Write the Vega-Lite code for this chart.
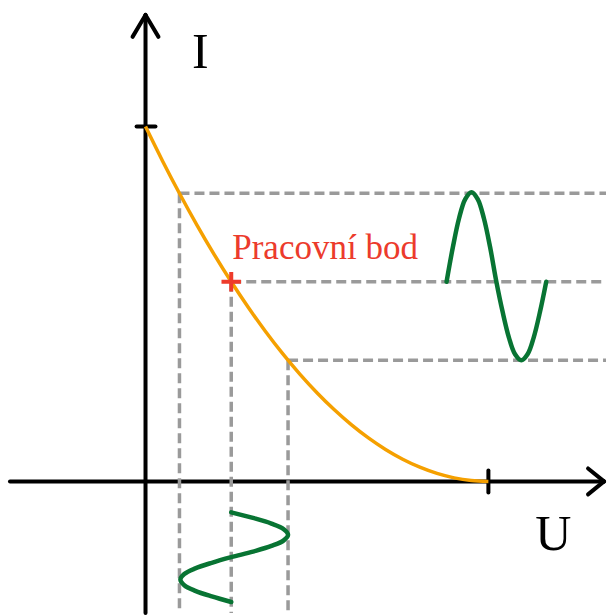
{
  "$schema": "https://vega.github.io/schema/vega-lite/v6.json",
  "width": 608,
  "height": 615,
  "padding": 0,
  "autosize": {"type": "fit", "contains": "padding"},
  "background": "white",
  "config": {"view": {"stroke": null}},
  "datasets": {
    "axes": [
      {"x": -0.3953, "y": 0, "x2": 1.3372, "y2": 0},
      {"x": 0, "y": -0.3708, "x2": 0, "y2": 1.3146},
      {"x": 1.2907, "y": 0.0365, "x2": 1.3372, "y2": 0},
      {"x": 1.2907, "y": -0.0365, "x2": 1.3372, "y2": 0},
      {"x": -0.0378, "y": 1.2528, "x2": 0, "y2": 1.3146},
      {"x": 0.0378, "y": 1.2528, "x2": 0, "y2": 1.3146},
      {"x": -0.026, "y": 1, "x2": 0.029, "y2": 1},
      {"x": 1, "y": 0.0309, "x2": 1, "y2": -0.0309}
    ],
    "dashes": [
      {"x": 0.099, "y": 0.812, "x2": 1.343, "y2": 0.812},
      {"x": 0.25, "y": 0.5625, "x2": 1.343, "y2": 0.5625},
      {"x": 0.4157, "y": 0.3414, "x2": 1.343, "y2": 0.3414},
      {"x": 0.099, "y": 0.812, "x2": 0.099, "y2": -0.3708},
      {"x": 0.25, "y": 0.5625, "x2": 0.25, "y2": -0.3708},
      {"x": 0.4157, "y": 0.3414, "x2": 0.4157, "y2": -0.3708}
    ],
    "curve": [
      {"u": 0, "i": 1}, {"u": 0.05, "i": 0.9025}, {"u": 0.1, "i": 0.81},
      {"u": 0.15, "i": 0.7225}, {"u": 0.2, "i": 0.64}, {"u": 0.25, "i": 0.5625},
      {"u": 0.3, "i": 0.49}, {"u": 0.35, "i": 0.4225}, {"u": 0.4, "i": 0.36},
      {"u": 0.45, "i": 0.3025}, {"u": 0.5, "i": 0.25}, {"u": 0.55, "i": 0.2025},
      {"u": 0.6, "i": 0.16}, {"u": 0.65, "i": 0.1225}, {"u": 0.7, "i": 0.09},
      {"u": 0.75, "i": 0.0625}, {"u": 0.8, "i": 0.04}, {"u": 0.85, "i": 0.0225},
      {"u": 0.9, "i": 0.01}, {"u": 0.95, "i": 0.0025}, {"u": 1.0, "i": 0}
    ],
    "waves": [
      {"w": "out", "k": 0, "u": 0.878, "i": 0.5625},
      {"w": "out", "k": 1, "u": 0.8962, "i": 0.6591},
      {"w": "out", "k": 2, "u": 0.9143, "i": 0.741},
      {"w": "out", "k": 3, "u": 0.9325, "i": 0.7958},
      {"w": "out", "k": 4, "u": 0.9507, "i": 0.815},
      {"w": "out", "k": 5, "u": 0.9688, "i": 0.7958},
      {"w": "out", "k": 6, "u": 0.987, "i": 0.741},
      {"w": "out", "k": 7, "u": 1.0052, "i": 0.6591},
      {"w": "out", "k": 8, "u": 1.0233, "i": 0.5625},
      {"w": "out", "k": 9, "u": 1.0415, "i": 0.4779},
      {"w": "out", "k": 10, "u": 1.0597, "i": 0.4062},
      {"w": "out", "k": 11, "u": 1.0778, "i": 0.3582},
      {"w": "out", "k": 12, "u": 1.096, "i": 0.3414},
      {"w": "out", "k": 13, "u": 1.1142, "i": 0.3582},
      {"w": "out", "k": 14, "u": 1.1323, "i": 0.4062},
      {"w": "out", "k": 15, "u": 1.1505, "i": 0.4779},
      {"w": "out", "k": 16, "u": 1.1686, "i": 0.5625},
      {"w": "in", "k": 0, "u": 0.25, "i": -0.0871},
      {"w": "in", "k": 1, "u": 0.3134, "i": -0.1029},
      {"w": "in", "k": 2, "u": 0.3672, "i": -0.1187},
      {"w": "in", "k": 3, "u": 0.4031, "i": -0.1345},
      {"w": "in", "k": 4, "u": 0.4157, "i": -0.1503},
      {"w": "in", "k": 5, "u": 0.4031, "i": -0.1661},
      {"w": "in", "k": 6, "u": 0.3672, "i": -0.1819},
      {"w": "in", "k": 7, "u": 0.3134, "i": -0.1977},
      {"w": "in", "k": 8, "u": 0.25, "i": -0.2135},
      {"w": "in", "k": 9, "u": 0.1932, "i": -0.2293},
      {"w": "in", "k": 10, "u": 0.1451, "i": -0.2451},
      {"w": "in", "k": 11, "u": 0.113, "i": -0.2609},
      {"w": "in", "k": 12, "u": 0.1017, "i": -0.2767},
      {"w": "in", "k": 13, "u": 0.113, "i": -0.2925},
      {"w": "in", "k": 14, "u": 0.1451, "i": -0.3083},
      {"w": "in", "k": 15, "u": 0.1932, "i": -0.3241},
      {"w": "in", "k": 16, "u": 0.25, "i": -0.3399}
    ],
    "point": [{"u": 0.25, "i": 0.5625}],
    "axisLabels": [
      {"u": 0.16, "i": 1.1657, "t": "I"},
      {"u": 1.189, "i": -0.1938, "t": "U"}
    ],
    "pointLabel": [
      {"u": 0.2529, "i": 0.6264, "t": "Pracovní bod"}
    ]
  },
  "layer": [
    {
      "data": {"name": "axes"},
      "mark": {"type": "rule", "color": "black", "strokeWidth": 4, "strokeCap": "round"},
      "encoding": {
        "x": {"field": "x", "type": "quantitative", "scale": {"domain": [-0.4244, 1.343], "nice": false, "zero": false}, "axis": null},
        "y": {"field": "y", "type": "quantitative", "scale": {"domain": [-0.3708, 1.3567], "nice": false, "zero": false}, "axis": null},
        "x2": {"field": "x2"},
        "y2": {"field": "y2"}
      }
    },
    {
      "data": {"name": "dashes"},
      "mark": {"type": "rule", "color": "#9a9a9a", "strokeWidth": 3.5, "strokeDash": [10, 5]},
      "encoding": {
        "x": {"field": "x", "type": "quantitative"},
        "y": {"field": "y", "type": "quantitative"},
        "x2": {"field": "x2"},
        "y2": {"field": "y2"}
      }
    },
    {
      "data": {"name": "curve"},
      "mark": {"type": "line", "color": "#f5a000", "strokeWidth": 3.5, "interpolate": "monotone"},
      "encoding": {
        "x": {"field": "u", "type": "quantitative"},
        "y": {"field": "i", "type": "quantitative"}
      }
    },
    {
      "data": {"name": "waves"},
      "mark": {"type": "line", "color": "#087433", "strokeWidth": 4.5, "interpolate": "catmull-rom", "strokeCap": "round"},
      "encoding": {
        "x": {"field": "u", "type": "quantitative"},
        "y": {"field": "i", "type": "quantitative"},
        "detail": {"field": "w"},
        "order": {"field": "k", "type": "quantitative"}
      }
    },
    {
      "data": {"name": "point"},
      "mark": {"type": "point", "shape": "M-1,0L1,0M0,-1L0,1", "stroke": "#ee3b2b", "strokeWidth": 4, "size": 380, "filled": false, "opacity": 1},
      "encoding": {
        "x": {"field": "u", "type": "quantitative"},
        "y": {"field": "i", "type": "quantitative"}
      }
    },
    {
      "data": {"name": "axisLabels"},
      "mark": {"type": "text", "font": "Liberation Serif", "baseline": "alphabetic", "align": "center", "fontSize": 50, "color": "#000000"},
      "encoding": {
        "x": {"field": "u", "type": "quantitative"},
        "y": {"field": "i", "type": "quantitative"},
        "text": {"field": "t"}
      }
    },
    {
      "data": {"name": "pointLabel"},
      "mark": {"type": "text", "font": "Liberation Serif", "baseline": "alphabetic", "align": "left", "fontSize": 35, "color": "#ec3b2c"},
      "encoding": {
        "x": {"field": "u", "type": "quantitative"},
        "y": {"field": "i", "type": "quantitative"},
        "text": {"field": "t"}
      }
    }
  ]
}
